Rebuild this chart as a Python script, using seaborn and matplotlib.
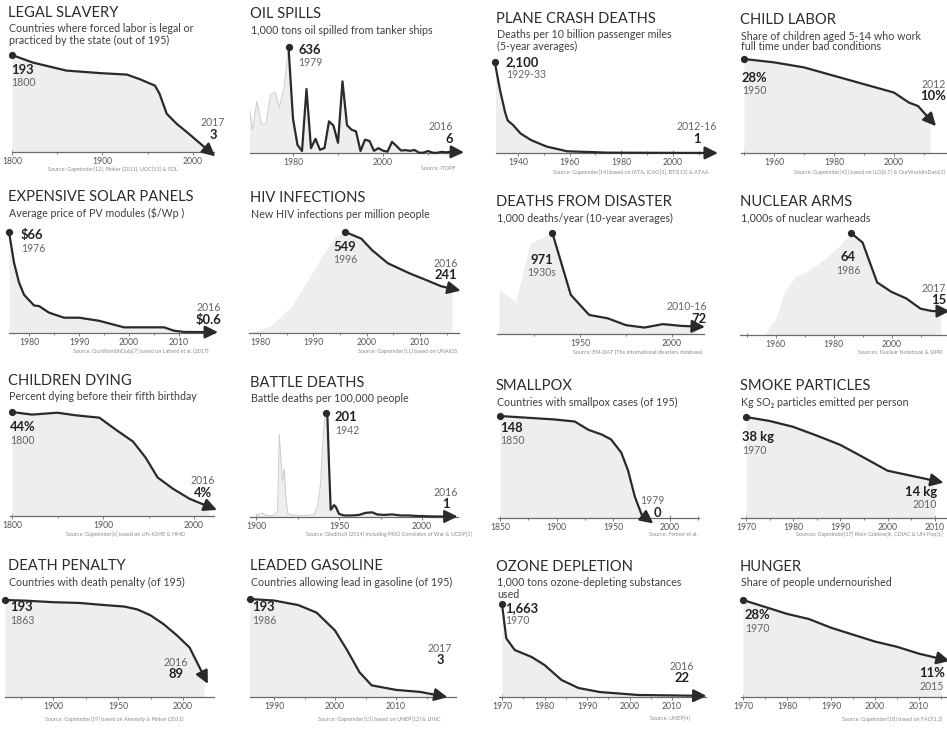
import matplotlib
matplotlib.use("Agg")
import matplotlib.pyplot as plt
import seaborn as sns
import pandas as pd
import numpy as np

sns.set_theme(style="white")
plt.rcParams['font.family'] = ['Lato', 'DejaVu Sans']

W, H = 947, 731
DARK = '#2a2a2a'
FILL = '#eeeeec'
PRE_LINE = '#cdcdcd'
AXIS = '#6a6a6a'

# ---- data ----
slavery_year = [1800, 1823, 1860, 1897, 1927, 1941, 1958, 1963, 1971, 1982, 1993, 2004, 2017]
slavery_count = [193, 178, 162, 157, 154, 145, 132, 116, 76, 56, 40, 23, 3]

oil_pre_year = [1970, 1971, 1972, 1973, 1974, 1975, 1976, 1977, 1978]
oil_pre_kt = [330, 140, 310, 170, 175, 350, 365, 275, 390]
oil_year = [1979, 1980, 1981, 1982, 1983, 1984, 1985, 1986, 1987, 1988, 1989, 1990, 1991,
            1992, 1993, 1994, 1995, 1996, 1997, 1998, 1999, 2000, 2001, 2002, 2003, 2004,
            2005, 2006, 2007, 2008, 2009, 2010, 2011, 2012, 2013, 2014, 2015, 2016]
oil_kt = [636, 206, 48, 12, 384, 29, 85, 19, 30, 190, 164, 61, 430,
          167, 140, 130, 12, 80, 72, 13, 29, 14, 8, 67, 42, 15,
          17, 13, 18, 2, 2, 12, 2, 1, 7, 4, 7, 6]

plane_year = [1931, 1933, 1935, 1936, 1938, 1941, 1945, 1951, 1959, 1975, 2014]
plane_deaths = [2100, 1460, 940, 750, 650, 450, 300, 150, 40, 8, 1]

child_year = [1950, 1960, 1970, 1980, 1990, 2000, 2005, 2008, 2012]
child_pct = [28, 27, 25.5, 23, 20.5, 18, 15, 14, 10]

solar_year = [1976, 1977, 1978, 1979, 1981, 1982, 1984, 1987, 1990, 1994, 1999, 2002, 2007, 2009, 2011, 2016]
solar_price = [66, 46, 33, 25, 18, 17.6, 13.3, 10, 10, 8, 3.7, 3.7, 3.7, 1.5, 0.7, 0.6]

hiv_pre_year = [1978, 1982, 1986, 1989, 1992, 1994]
hiv_pre = [0, 39, 147, 290, 433, 522]
hiv_year = [1996, 1999, 2001, 2004, 2008, 2011, 2014, 2016]
hiv_rate = [549, 513, 451, 379, 325, 290, 254, 241]

disaster_pre_year = [1906, 1915, 1923]
disaster_pre = [424, 312, 874]
disaster_year = [1935, 1945, 1955, 1965, 1975, 1985, 1995, 2005, 2013]
disaster_deaths = [971, 376, 183, 151, 85, 62, 95, 78, 72]

nuke_pre_year = [1956, 1960, 1963, 1967, 1970, 1975, 1981]
nuke_pre = [0, 10, 27, 37, 39, 45, 54]
nuke_year = [1986, 1990, 1993, 1995, 2000, 2005, 2010, 2014, 2017]
nuke_k = [64, 58, 43, 33, 27, 23, 16.5, 15, 15]

kids_year = [1800, 1822, 1850, 1870, 1896, 1907, 1916, 1933, 1947, 1960, 1977, 1995, 2016]
kids_pct = [44, 42.9, 43.7, 42.6, 41.6, 38.5, 36, 31.5, 24.6, 16.3, 11.5, 7.3, 4]

battle_pre_year = [1900, 1904, 1906, 1910, 1913, 1914, 1915, 1916, 1917, 1918, 1919, 1921,
                   1930, 1935, 1937, 1938, 1939, 1940, 1941]
battle_pre = [3, 8, 3, 2, 10, 160, 110, 70, 93, 40, 8, 4, 3, 5, 20, 40, 70, 130, 180]
battle_year = [1942, 1943, 1944, 1945, 1946, 1947, 1948, 1950, 1953, 1958, 1962, 1966,
               1970, 1973, 1977, 1982, 1987, 1992, 1997, 2002, 2008, 2016]
battle_rate = [201, 195, 100, 14, 18, 23, 20, 6, 3, 3, 4, 8, 9, 5, 4, 5, 3, 3, 2, 1.5, 1, 1]

pox_year = [1850, 1869, 1898, 1916, 1928, 1940, 1948, 1957, 1963, 1969, 1975, 1979]
pox_count = [148, 146, 143, 140, 128, 121, 114, 95, 69, 31, 5, 0]

smoke_year = [1970, 1975, 1980, 1985, 1990, 1995, 2000, 2005, 2010]
smoke_kg = [38, 36.5, 34.3, 31, 27.5, 22.7, 17.8, 15.9, 14]

penalty_year = [1863, 1880, 1900, 1920, 1940, 1955, 1965, 1975, 1985, 1995, 2005, 2016]
penalty_count = [193, 192, 190, 189, 186, 184, 180, 172, 160, 145, 128, 89]

lead_year = [1986, 1990, 1994, 1997, 2000, 2002, 2004, 2006, 2010, 2014, 2017]
lead_count = [193, 190, 181, 166, 131, 92, 49, 23, 14, 10, 3]

ozone_year = [1970, 1971, 1973, 1977, 1980, 1984, 1988, 1993, 2002, 2016]
ozone_kt = [1663, 1050, 840, 715, 572, 304, 161, 89, 36, 22]

hunger_year = [1970, 1975, 1980, 1985, 1990, 1995, 2000, 2005, 2010, 2015]
hunger_pct = [28, 26, 24, 22.5, 20, 18, 16, 14.5, 12.5, 11]

# ---- panel layout (pixels of the 947x731 picture) ----
panels = [
    dict(title="LEGAL SLAVERY", sub=["Countries where forced labor is legal or", "practiced by the state (out of 195)"],
         src="Source: Gapminder[12], Pinker (2011), UOC[13] & SOL", tpos=(8, 13), srcpos=(178, 169),
         box=(12, 214, 55, 152), xmap=(1800, 12, 0.905), ticks=[1800, 1900, 2000],
         x=slavery_year, y=slavery_count, ymax=193,
         start=("193", "1800", 11, 70, 'left'), end=("2017", "3", 213, 123, 'center', 'above')),
    dict(title="OIL SPILLS", sub=["1,000 tons oil spilled from tanker ships"],
         src="Source: ITOPF", tpos=(250, 14), srcpos=(455, 169),
         box=(250, 456, 47, 153), xmap=(1980, 293, 4.5), ticks=[1980, 2000],
         x=oil_year, y=oil_kt, pre=(oil_pre_year, oil_pre_kt), pre_line=True, ymax=636,
         start=("636", "1979", 298, 50, 'left'), end=("2016", "6", 453, 127, 'right', 'above')),
    dict(title="PLANE CRASH DEATHS", sub=["Deaths per 10 billion passenger miles", "(5-year averages)"],
         src="Source: Gapminder[14] based on IATA, ICAO[3], BTS[12] & ATAA", tpos=(496, 19), srcpos=(708, 172),
         box=(496, 704, 62, 153), xmap=(1940, 518, 2.58), ticks=[1940, 1960, 1980, 2000],
         x=plane_year, y=plane_deaths, ymax=2100,
         start=("2,100", "1929-33", 506, 62, 'left'), end=("2012-16", "1", 697, 127, 'center', 'above')),
    dict(title="CHILD LABOR", sub=["Share of children aged 5-14 who work", "full time under bad conditions"],
         src="Source: Gapminder[42] based on ILO[6,7] & OurWorldInData[3]", tpos=(740, 20), srcpos=(945, 172),
         box=(741, 960, 59, 153), xmap=(1950, 744, 3.0), ticks=[1960, 1980, 2000],
         x=child_year, y=child_pct, ymax=28,
         start=("28%", "1950", 742, 78, 'left'), end=("2012", "10%", 946, 84, 'right', 'above')),
    dict(title="EXPENSIVE SOLAR PANELS", sub=["Average price of PV modules ($/Wp )"],
         src="Source: OurWorldInData[7] based on Lafond et al. (2017)", tpos=(8, 197), srcpos=(208, 351),
         box=(9, 214, 232, 333), xmap=(1976, 9, 5.0), ticks=[1980, 1990, 2000, 2010],
         x=solar_year, y=solar_price, ymax=66,
         start=("$66", "1976", 21, 235, 'left'), end=("2016", "$0.6", 221, 308, 'right', 'above')),
    dict(title="HIV INFECTIONS", sub=["New HIV infections per million people"],
         src="Source: Gapminder[11] based on UNAIDS", tpos=(250, 198), srcpos=(457, 351),
         box=(249, 459, 232, 333), xmap=(1980, 260, 5.33), ticks=[1980, 1990, 2000, 2010],
         x=hiv_year, y=hiv_rate, pre=(hiv_pre_year, hiv_pre), ymax=549,
         start=("549", "1996", 345, 247, 'center'), end=("2016", "241", 446, 263, 'center', 'above')),
    dict(title="DEATHS FROM DISASTER", sub=["1,000 deaths/year (10-year averages)"],
         src="Source: EM-DAT (The international disasters database)", tpos=(496, 202), srcpos=(702, 352),
         box=(497, 704, 233, 334), xmap=(1950, 580, 1.84), ticks=[1950, 2000],
         x=disaster_year, y=disaster_deaths, pre=(disaster_pre_year, disaster_pre), ymax=971,
         start=("971", "1930s", 542, 260, 'center'), end=("2010-16", "72", 707, 307, 'right', 'above')),
    dict(title="NUCLEAR ARMS", sub=["1,000s of nuclear warheads"],
         src="Sources: Nuclear Notebook & SIPRI", tpos=(740, 202), srcpos=(943, 352),
         box=(740, 960, 233, 335), xmap=(1986, 851, 2.9), ticks=[1960, 1980, 2000],
         x=nuke_year, y=nuke_k, pre=(nuke_pre_year, nuke_pre), ymax=64,
         start=("64", "1986", 848, 257, 'center'), end=("2017", "15", 946, 288, 'right', 'above')),
    dict(title="CHILDREN DYING", sub=["Percent dying before their fifth birthday"],
         src="Source: Gapminder[6] based on UN-IGME & HMD", tpos=(8, 381), srcpos=(185, 534),
         box=(10, 214, 412, 516), xmap=(1800, 12, 0.91), ticks=[1800, 1900, 2000],
         x=kids_year, y=kids_pct, ymax=44,
         start=("44%", "1800", 10, 427, 'left'), end=("2016", "4%", 203, 481, 'center', 'above')),
    dict(title="BATTLE DEATHS", sub=["Battle deaths per 100,000 people"],
         src="Source: Gleditsch (2014) including PRIO Correlates of War & UCDP[1]", tpos=(250, 383), srcpos=(472, 534),
         box=(250, 458, 413, 517), xmap=(1900, 256, 1.66), ticks=[1900, 1950, 2000],
         x=battle_year, y=battle_rate, pre=(battle_pre_year, battle_pre), pre_line=True, ymax=201,
         start=("201", "1942", 335, 417, 'left'), end=("2016", "1", 446, 492, 'center', 'above')),
    dict(title="SMALLPOX", sub=["Countries with smallpox cases (of 195)"],
         src="Source: Fenner et al.", tpos=(496, 386), srcpos=(698, 534),
         box=(498, 699, 416, 518), xmap=(1850, 500, 1.133), ticks=[1850, 1900, 1950, 2000],
         x=pox_year, y=pox_count, ymax=148,
         start=("148", "1850", 500, 428, 'left'), end=("1979", "0", 652, 501, 'center', 'above'), end_dx=5),
    dict(title="SMOKE PARTICLES", sub=["Kg SO\u2082 particles emitted per person"],
         src="Sources: Gapminder[17] Klein Goldewijk, CDIAC & UN-Pop[1]", tpos=(740, 386), srcpos=(943, 534),
         box=(741, 960, 417, 518), xmap=(1970, 746, 4.72), ticks=[1970, 1980, 1990, 2000, 2010],
         x=smoke_year, y=smoke_kg, ymax=38,
         start=("38 kg", "1970", 742, 437, 'left'), end=("2010", "14 kg", 937, 492, 'right', 'below')),
    dict(title="DEATH PENALTY", sub=["Countries with death penalty (of 195)"],
         src="Source: Gapminder[19] based on Amnesty & Pinker (2011)", tpos=(8, 566), srcpos=(183, 719),
         box=(5, 214, 600, 697), xmap=(1900, 53, 1.3), ticks=[1900, 1950, 2000],
         x=penalty_year, y=penalty_count, ymin=60, ymax=193,
         start=("193", "1863", 10, 607, 'left'), end=("2016", "89", 176, 662, 'center', 'above')),
    dict(title="LEADED GASOLINE", sub=["Countries allowing lead in gasoline (of 195)"],
         src="Source: Gapminder[15] based on UNEP[12] & UNIC", tpos=(250, 566), srcpos=(440, 719),
         box=(250, 456, 599, 697), xmap=(1990, 274, 6.1), ticks=[1990, 2000, 2010],
         x=lead_year, y=lead_count, ymax=193,
         start=("193", "1986", 252, 607, 'left'), end=("2017", "3", 440, 648, 'center', 'above')),
    dict(title="OZONE DEPLETION", sub=["1,000 tons ozone-depleting substances", "used"],
         src="Source: UNEP[4]", tpos=(496, 567), srcpos=(690, 719),
         box=(499, 706, 604, 697), xmap=(1970, 502, 4.25), ticks=[1970, 1980, 1990, 2000, 2010],
         x=ozone_year, y=ozone_kt, ymax=1663,
         start=("1,663", "1970", 505, 608, 'left'), end=("2016", "22", 682, 666, 'center', 'above')),
    dict(title="HUNGER", sub=["Share of people undernourished"],
         src="Source: Gapminder[18] based on FAO[1,3]", tpos=(740, 567), srcpos=(943, 719),
         box=(741, 960, 600, 697), xmap=(1970, 743, 4.4), ticks=[1970, 1980, 1990, 2000, 2010],
         x=hunger_year, y=hunger_pct, ymax=28,
         start=("28%", "1970", 745, 615, 'left'), end=("2015", "11%", 932, 673, 'center', 'below')),
]


def ftext(fig, x, y, s, **kw):
    kw.setdefault('va', 'center')
    fig.text(x / W, 1 - y / H, s, **kw)


def draw_panel(fig, p):
    xl, xr, ytop, yaxis = p['box']
    yr0, px0, ppy = p['xmap']
    ymin = p.get('ymin', 0)
    ax = fig.add_axes([xl / W, 1 - yaxis / H, (xr - xl) / W, (yaxis - ytop) / H])
    ax.set_xlim(yr0 + (xl - px0) / ppy, yr0 + (xr - px0) / ppy)
    ax.set_ylim(ymin, p['ymax'])
    ax.patch.set_alpha(0)

    x, v = list(p['x']), list(p['y'])
    pre_x, pre_v = p.get('pre', ([], []))
    fx = list(pre_x) + x
    fv = list(pre_v) + v
    ax.fill_between(fx, fv, ymin, color=FILL, lw=0, zorder=1)
    if p.get('pre_line'):
        ax.plot(list(pre_x) + [x[0]], list(pre_v) + [v[0]], color=PRE_LINE, lw=0.7, zorder=2)

    df = pd.DataFrame({'year': x, 'value': v})
    sns.lineplot(data=df, x='year', y='value', ax=ax, color=DARK, lw=1.6,
                 estimator=None, sort=False, clip_on=False, zorder=3)
    ax.plot(x[0], v[0], 'o', ms=4.2, color=DARK, clip_on=False, zorder=4)

    # arrow head a little past the last point
    tr = ax.transData
    p1 = tr.transform((x[-1], v[-1]))
    p0 = tr.transform((x[-2], v[-2]))
    d = (p1 - p0) / np.hypot(*(p1 - p0))
    tip = tr.inverted().transform(p1 + d * 9)
    ax.annotate('', xy=tip, xytext=(x[-1], v[-1]), annotation_clip=False,
                arrowprops=dict(arrowstyle='-|>,head_length=0.65,head_width=0.32', color=DARK,
                                lw=1.6, shrinkA=0, shrinkB=0))

    ticks = p['ticks']
    step = ticks[1] - ticks[0]
    ax.set_xticks(ticks)
    ax.set_xticklabels([str(t) for t in ticks])
    lo, hi = ax.get_xlim()
    ax.set_xticks([t for t in np.arange(ticks[0] - step, hi, step / 2) if lo <= t <= hi], minor=True)
    ax.set_yticks([])
    ax.set_xlabel('')
    ax.set_ylabel('')
    for s in ['top', 'left', 'right']:
        ax.spines[s].set_visible(False)
    ax.spines['bottom'].set_color(AXIS)
    ax.spines['bottom'].set_linewidth(0.9)
    ax.tick_params(axis='x', which='both', bottom=True, direction='inout', color=AXIS, width=0.6)
    ax.tick_params(axis='x', which='major', length=4, labelsize=6.2, labelcolor='#555555', pad=1.5)
    ax.tick_params(axis='x', which='minor', length=2.5)

    # texts
    tx, ty = p['tpos']
    ftext(fig, tx, ty, p['title'], fontsize=10.6, color='#2b2b2b', ha='left')
    for i, line in enumerate(p['sub']):
        ftext(fig, tx + 1, ty + 16 + 11 * i, line, fontsize=7.7, color='#3e3e3e', ha='left')
    sx, sy = p['srcpos']
    ftext(fig, sx, sy, p['src'], fontsize=3.9, color='#8a8a8a', ha='right')

    bold, yr, lx, ly, ha = p['start']
    ftext(fig, lx, ly, bold, fontsize=9.4, fontweight='bold', color='#222222', ha=ha)
    ftext(fig, lx, ly + 13, yr, fontsize=7.6, color='#666666', ha=ha)

    first, second, ex, ey, eha, where = p['end']
    dx = p.get('end_dx', 0)
    if where == 'above':
        ftext(fig, ex, ey, first, fontsize=7.6, color='#666666', ha=eha)
        ftext(fig, ex + dx, ey + 12, second, fontsize=9.4, fontweight='bold', color='#222222', ha=eha)
    else:
        ftext(fig, ex, ey, second, fontsize=9.4, fontweight='bold', color='#222222', ha=eha)
        ftext(fig, ex, ey + 13, first, fontsize=7.6, color='#666666', ha=eha)


fig = plt.figure(figsize=(9.47, 7.31), dpi=100)
fig.patch.set_facecolor('white')
for p in panels:
    draw_panel(fig, p)

fig.savefig('out.png', dpi=100, facecolor='white')
